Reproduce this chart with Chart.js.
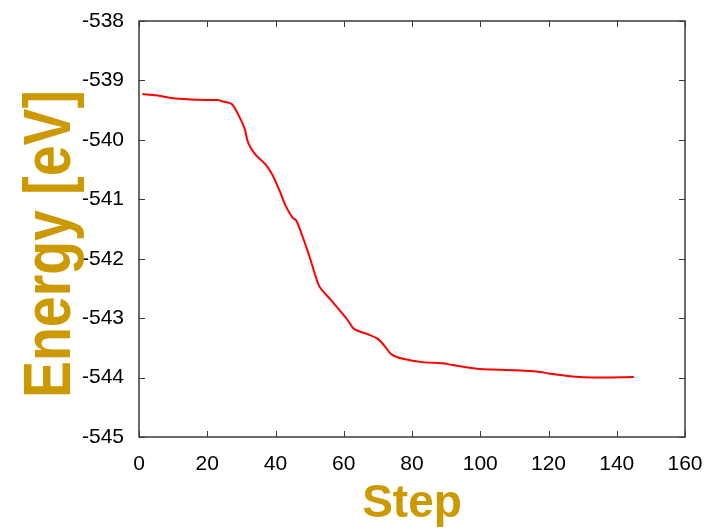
<!DOCTYPE html>
<html>
<head>
<meta charset="utf-8">
<script src="https://cdn.jsdelivr.net/npm/chart.js@4"></script>
<style>
html,body{margin:0;padding:0;background:#fff;}
#wrap{width:712px;height:532px;position:relative;}
</style>
</head>
<body>
<div id="wrap"><canvas id="c" width="712" height="532"></canvas></div>
<script>
const steps = [1, 5, 10, 15, 20, 23, 25, 27, 28, 30, 31, 32, 34, 37, 39, 41, 43, 45, 46, 47, 49, 50, 52, 53, 56, 59, 61, 63, 67, 70, 72, 74, 77, 83, 89, 92, 99, 106, 117, 120, 127, 133, 145];
const energy = [-539.23, -539.25, -539.30, -539.32, -539.33, -539.33, -539.36, -539.39, -539.46, -539.68, -539.82, -540.05, -540.24, -540.41, -540.58, -540.83, -541.11, -541.31, -541.35, -541.48, -541.80, -541.97, -542.34, -542.48, -542.68, -542.88, -543.02, -543.18, -543.27, -543.35, -543.47, -543.61, -543.68, -543.74, -543.76, -543.79, -543.85, -543.87, -543.90, -543.93, -543.98, -544.00, -543.99];
const xTicks = [0, 20, 40, 60, 80, 100, 120, 140, 160];
const yTicks = [-545, -544, -543, -542, -541, -540, -539, -538];
const xTitle = 'Step';
const yTitle = 'Energy [eV]';

const points = steps.map((s, i) => ({x: s, y: energy[i]}));

const framePlugin = {
  id: 'frame',
  afterDraw(chart) {
    const {ctx, chartArea: a, scales: {x, y}} = chart;
    ctx.save();
    ctx.strokeStyle = '#3a3a3a';
    ctx.lineWidth = 1.5;
    ctx.strokeRect(a.left, a.top, a.right - a.left, a.bottom - a.top);
    ctx.lineWidth = 1;
    const tl = 6;
    ctx.beginPath();
    x.ticks.forEach(t => {
      const px = Math.round(x.getPixelForValue(t.value)) + 0.5;
      ctx.moveTo(px, a.bottom); ctx.lineTo(px, a.bottom - tl);
      ctx.moveTo(px, a.top); ctx.lineTo(px, a.top + tl);
    });
    y.ticks.forEach(t => {
      const py = Math.round(y.getPixelForValue(t.value)) + 0.5;
      ctx.moveTo(a.left, py); ctx.lineTo(a.left + tl, py);
      ctx.moveTo(a.right, py); ctx.lineTo(a.right - tl, py);
    });
    ctx.stroke();
    // y-axis title (condensed bold, as in the reference)
    ctx.fillStyle = '#cc9900';
    ctx.font = "bold 66px 'Liberation Sans', Arial, sans-serif";
    ctx.textAlign = 'center';
    ctx.textBaseline = 'alphabetic';
    ctx.translate(70, 244);
    ctx.rotate(-Math.PI / 2);
    ctx.scale(0.84, 1);
    ctx.fillText(yTitle, 0, 0);
    ctx.restore();
  }
};

new Chart(document.getElementById('c'), {
  type: 'line',
  data: {
    datasets: [{
      data: points,
      borderColor: '#ff0000',
      borderWidth: 2,
      pointRadius: 0,
      tension: 0.3,
      fill: false
    }]
  },
  options: {
    responsive: false,
    animation: false,
    events: [],
    layout: {padding: {left: 0, top: 21, right: 27, bottom: 0}},
    plugins: {legend: {display: false}, tooltip: {enabled: false}},
    scales: {
      x: {
        type: 'linear',
        min: 0, max: 160,
        afterBuildTicks: s => { s.ticks = xTicks.map(v => ({value: v})); },
        afterFit: s => { s.height = 95; s.paddingLeft = 0; s.paddingRight = 0; },
        grid: {display: false, drawTicks: false},
        border: {display: false},
        ticks: {color: '#000', padding: 15, maxRotation: 0, autoSkip: false,
                font: {family: "'Liberation Sans', Arial, sans-serif", size: 21}},
        title: {display: true, text: xTitle, color: '#cc9900', padding: {top: 0, bottom: 0},
                font: {family: "'Liberation Sans', Arial, sans-serif", size: 46, weight: 'bold'}}
      },
      y: {
        type: 'linear',
        min: -545, max: -538,
        afterBuildTicks: s => { s.ticks = yTicks.map(v => ({value: v})); },
        afterFit: s => { s.width = 139; s.paddingTop = 0; s.paddingBottom = 0; },
        grid: {display: false, drawTicks: false},
        border: {display: false},
        ticks: {color: '#000', padding: 15, autoSkip: false,
                font: {family: "'Liberation Sans', Arial, sans-serif", size: 21}},
        title: {display: false}
      }
    }
  },
  plugins: [framePlugin]
});
</script>
</body>
</html>
